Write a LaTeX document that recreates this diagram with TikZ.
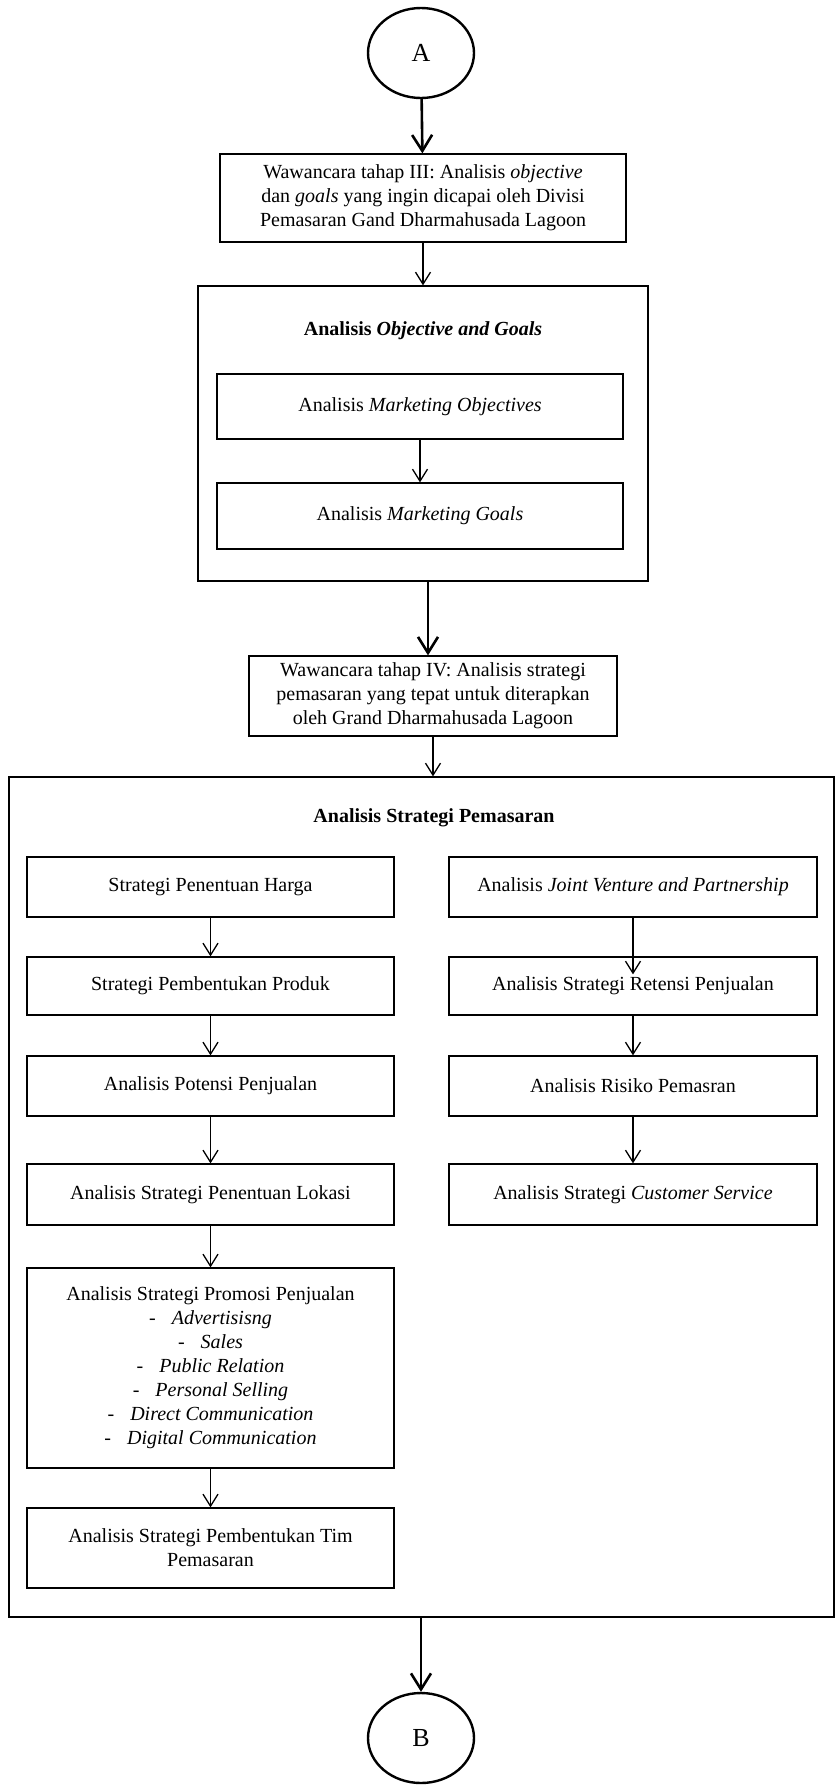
\documentclass[tikz,border=0pt]{standalone}
\usepackage{fontspec}
\setmainfont{Liberation Serif}
\usetikzlibrary{arrows.meta, shapes.geometric}

\begin{document}
\begin{tikzpicture}[x=1pt,y=-1pt,line cap=round,
            font=\fontsize{20}{24}\selectfont,
            box/.style={draw, rectangle, line width=1.3pt, align=center, inner sep=0pt},
            conn/.style={draw, ellipse, line width=2.4pt, inner sep=0pt,
                minimum width=106pt, minimum height=90pt, font=\fontsize{26}{30}\selectfont},
            flow/.style={-{Straight Barb[length=12pt,width=15pt]}, line width=1.3pt},
            bigflow/.style={-{Straight Barb[length=16pt,width=20pt]}, line width=2.6pt}]
            \useasboundingbox (0,0) rectangle (835,1792);

            % connectors and interview boxes
            \node[conn] (circA) at (421,53) {A};
            \node[box, minimum width=406pt, minimum height=88pt] (wawIII) at (423,198)
                {Wawancara tahap III: Analisis \textit{objective}\\
                dan \textit{goals} yang ingin dicapai oleh Divisi\\
                Pemasaran Gand Dharmahusada Lagoon};

            % objective and goals
            \node[box, minimum width=450pt, minimum height=295pt] (objgoals) at (423,433.5) {};
            \node (title1) at (423,331) {\textbf{Analisis \textit{Objective and Goals}}};
            \node[box, minimum width=406pt, minimum height=65pt] (mobj) at (420,406.5)
                {Analisis \textit{Marketing Objectives}};
            \node[box, minimum width=406pt, minimum height=66pt] (mgoal) at (420,516)
                {Analisis \textit{Marketing Goals}};

            \node[box, minimum width=368pt, minimum height=80pt] (wawIV) at (433,696)
                {Wawancara tahap IV: Analisis strategi\\
                pemasaran yang tepat untuk diterapkan\\
                oleh Grand Dharmahusada Lagoon};

            % strategi pemasaran
            \node[box, minimum width=825pt, minimum height=840pt] (strat) at (421.5,1197) {};
            \node (title2) at (434,818) {\textbf{Analisis Strategi Pemasaran}};

            \node[box, minimum width=367pt, minimum height=60pt] (harga) at (210.5,887)
                {Strategi Penentuan Harga};
            \node[box, minimum width=367pt, minimum height=58pt] (produk) at (210.5,986)
                {Strategi Pembentukan Produk};
            \node[box, minimum width=367pt, minimum height=60pt] (potensi) at (210.5,1086)
                {Analisis Potensi Penjualan};
            \node[box, minimum width=367pt, minimum height=61pt] (lokasi) at (210.5,1194.5)
                {Analisis Strategi Penentuan Lokasi};
            \node[box, minimum width=367pt, minimum height=200pt] (promosi) at (210.5,1368)
                {Analisis Strategi Promosi Penjualan\\
                -\hspace{16pt}\textit{Advertisisng}\\
                -\hspace{16pt}\textit{Sales}\\
                -\hspace{16pt}\textit{Public Relation}\\
                -\hspace{16pt}\textit{Personal Selling}\\
                -\hspace{16pt}\textit{Direct Communication}\\
                -\hspace{16pt}\textit{Digital Communication}};
            \node[box, minimum width=367pt, minimum height=80pt] (tim) at (210.5,1548)
                {Analisis Strategi Pembentukan Tim\\ Pemasaran};

            \node[box, minimum width=368pt, minimum height=60pt] (jv) at (633,887)
                {Analisis \textit{Joint Venture and Partnership}};
            \node[box, minimum width=368pt, minimum height=58pt] (retensi) at (633,986)
                {Analisis Strategi Retensi Penjualan};
            \node[box, minimum width=368pt, minimum height=60pt] (risiko) at (633,1086)
                {Analisis Risiko Pemasran};
            \node[box, minimum width=368pt, minimum height=61pt] (cs) at (633,1194.5)
                {Analisis Strategi \textit{Customer Service}};

            \node[conn] (circB) at (421,1738) {B};

            % arrows
            \draw[bigflow] (circA) -- (wawIII);
            \draw[flow] (wawIII) -- (objgoals);
            \draw[flow] (mobj) -- (mgoal);
            \draw[bigflow] ([xshift=5pt]objgoals.south) -- ([xshift=-5pt]wawIV.north);
            \draw[flow] (wawIV) -- (wawIV |- strat.north);
            \draw[flow] (harga) -- (produk);
            \draw[flow] (produk) -- (potensi);
            \draw[flow] (potensi) -- (lokasi);
            \draw[flow] (lokasi) -- (promosi);
            \draw[flow] (promosi) -- (tim);
            \draw[flow, shorten >=-18pt] (jv) -- (retensi);
            \draw[flow] (retensi) -- (risiko);
            \draw[flow] (risiko) -- (cs);
            \draw[bigflow] (strat.south -| circB) -- (circB);
        \end{tikzpicture}
\end{document}
